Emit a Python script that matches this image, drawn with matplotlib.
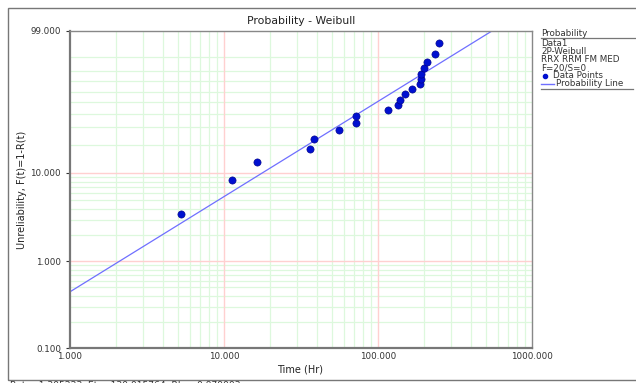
import numpy as np
import matplotlib
matplotlib.use("Agg")
import matplotlib.pyplot as plt
from matplotlib.lines import Line2D
from matplotlib.patches import Rectangle

# ---- data ----
times = [5.23, 11.2, 16.5, 36.0, 38.2, 55.8, 71.9, 72.3, 116.1, 135.5,
         139.6, 149.7, 165.5, 186.6, 189.4, 190.2, 199.0, 207.2, 235.6, 247.9]
unrel = [3.43, 8.33, 13.24, 18.14, 23.04, 27.94, 32.84, 37.75, 42.65, 47.55,
         52.45, 57.35, 62.25, 67.16, 72.06, 76.96, 81.86, 86.76, 91.67, 96.57]
beta = 1.10
eta = 137.0
x_ticks = [1, 10, 100, 1000]
x_tick_labels = ["1.000", "10.000", "100.000", "1000.000"]
y_ticks = [0.1, 1, 10, 99]
y_tick_labels = ["0.100", "1.000", "10.000", "99.000"]
legend_lines = ["Data1", "2P-Weibull", "RRX RRM FM MED", "F=20/S=0"]

W, H = 636, 383
fig = plt.figure(figsize=(W / 100, H / 100), dpi=100)

def fx(px):
    return px / W

def fy(py):
    return 1 - py / H

def fwd(F):
    F = np.clip(np.asarray(F, dtype=float), 1e-6, 99.9999)
    return np.log(-np.log(1 - F / 100.0))

def inv(g):
    g = np.asarray(g, dtype=float)
    return 100.0 * (1 - np.exp(-np.exp(g)))

L, R, T, B = 70, 532, 31, 348
ax = fig.add_axes([fx(L), fy(B), (R - L) / W, (B - T) / H])
ax.set_xscale("log")
ax.set_yscale("function", functions=(fwd, inv))
ax.set_xlim(1, 1000)
ax.set_ylim(0.1, 99)

green = "#ddf8dd"
red = "#ffd0d0"
# grid
for dec in [1, 10, 100]:
    for m in range(2, 10):
        ax.axvline(dec * m, color=green, lw=0.9, zorder=0)
for xv in [10, 100]:
    ax.axvline(xv, color=red, lw=1.0, zorder=0.5)
for dec in [0.1, 1, 10]:
    for m in range(2, 10):
        ax.axhline(dec * m, color=green, lw=0.9, zorder=0)
for yv in [1, 10]:
    ax.axhline(yv, color=red, lw=1.0, zorder=0.5)

# probability line
tl = np.logspace(0, 3, 400)
Fl = 100 * (1 - np.exp(-(tl / eta) ** beta))
ax.plot(tl, Fl, color="#6f6fff", lw=0.9, zorder=2)
# data points
ax.plot(times, unrel, "o", ms=5.2, color="#0010d0", mec="#000080", mew=0.4, zorder=3)

ax.set_xticks(x_ticks)
ax.set_xticklabels(x_tick_labels)
ax.set_yticks(y_ticks)
ax.set_yticklabels(y_tick_labels)
ax.xaxis.set_minor_locator(matplotlib.ticker.NullLocator())
ax.yaxis.set_minor_locator(matplotlib.ticker.NullLocator())
ax.tick_params(axis="both", labelsize=6.3, colors="#333333", length=3, width=0.8, direction="out")
ax.tick_params(axis="x", length=0, pad=3)
for s in ["left", "bottom"]:
    ax.spines[s].set_color("#777777")
    ax.spines[s].set_linewidth(1.6)
for s in ["top", "right"]:
    ax.spines[s].set_color("#888888")
    ax.spines[s].set_linewidth(1.0)

# titles / labels
fig.text(fx(301), fy(21), "Probability - Weibull", ha="center", va="center", fontsize=7.8, color="#222222")
fig.text(fx(300), fy(369), "Time (Hr)", ha="center", va="center", fontsize=7.0, color="#222222")
fig.text(fx(22), fy(190), "Unreliability, F(t)=1-R(t)", ha="center", va="center", rotation=90,
         fontsize=7.0, color="#222222")

# outer frame
fig.add_artist(Rectangle((fx(8), fy(380)), 1.0, (380 - 8) / H, transform=fig.transFigure,
                         fill=False, ec="#777777", lw=1.0))

# legend block
lx = 541
fs = 6.3
fig.text(fx(lx), fy(33), "Probability", ha="left", va="center", fontsize=fs, color="#333333")
fig.add_artist(Line2D([fx(lx), fx(636)], [fy(38), fy(38)], color="#777777", lw=0.9))
ys = [44, 52, 60, 68]
for t, yy in zip(legend_lines, ys):
    fig.text(fx(lx), fy(yy), t, ha="left", va="center", fontsize=fs, color="#333333")
fig.add_artist(Line2D([fx(lx + 4)], [fy(75.5)], marker="o", ms=3, color="#0010d0", ls="none"))
fig.text(fx(lx + 12), fy(75.5), "Data Points", ha="left", va="center", fontsize=fs, color="#333333")
fig.add_artist(Line2D([fx(lx), fx(lx + 13)], [fy(84), fy(84)], color="#6f6fff", lw=1.0))
fig.text(fx(lx + 15), fy(83.5), "Probability Line", ha="left", va="center", fontsize=fs, color="#333333")
fig.add_artist(Line2D([fx(lx), fx(633)], [fy(88.5), fy(88.5)], color="#777777", lw=0.9))

# parameter text at bottom (clipped by the image edge, as in the reference)
fig.text(fx(10), fy(381), "Beta=1.305223, Eta=130.015764, Rho=0.979003", ha="left", va="top",
         fontsize=6.6, color="#333333")

fig.savefig("out.png", dpi=100)
